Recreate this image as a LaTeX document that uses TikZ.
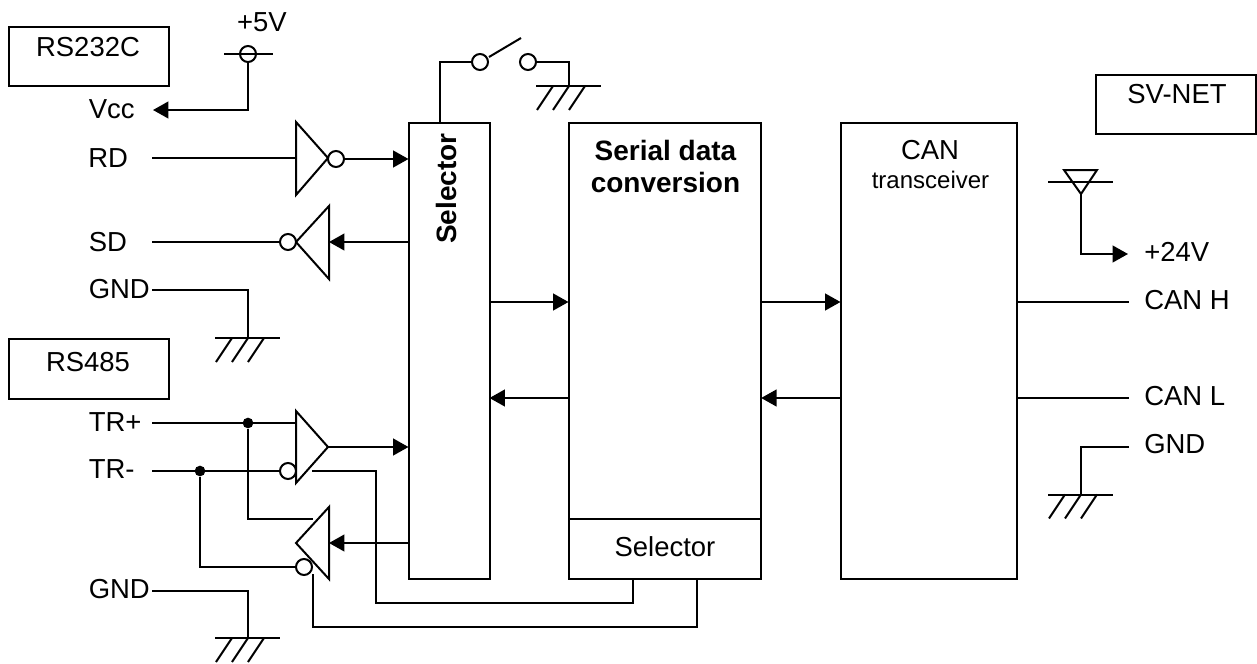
\documentclass[tikz,border=0pt]{standalone}
\usepackage{fontspec}
\setmainfont{Liberation Sans}
\usetikzlibrary{arrows.meta}
\tikzset{
  x=0.75pt,y=-0.75pt,
  wire/.style={line width=1.5pt,line cap=butt,line join=miter},
  sig/.style={wire,-{Triangle[length=11.5pt,width=12.5pt]}},
  box/.style={wire,draw,rectangle,inner sep=0pt,outer sep=0pt,anchor=north west},
  lab/.style={inner sep=0pt,anchor=base west,font=\fontsize{20.6}{20.6}\selectfont},
  clab/.style={lab,anchor=base},
  blab/.style={clab,font=\fontsize{21}{21}\selectfont\bfseries},
  bub/.style={wire,draw,circle,fill=white,minimum size=12pt,inner sep=0pt},
  jn/.style={circle,fill=black,minimum size=8pt,inner sep=0pt},
  gnd/.pic={
    \draw[wire] (-33,0) -- (32,0);
    \draw[wire] (-16,0) -- (-32,24) (0,0) -- (-16,24) (16,0) -- (0,24);
  }
}
\begin{document}
\begin{tikzpicture}
\useasboundingbox (0,0) rectangle (1257,664);
% boxes
\node[box,minimum width=120.5pt,minimum height=44.25pt] (rs232) at (8.5,27) {};
\node[box,minimum width=120.5pt,minimum height=45pt] (rs485) at (8.5,338.5) {};
\node[box,minimum width=120pt,minimum height=44.5pt] (svnet) at (1096,75) {};
\node[box,minimum width=60.75pt,minimum height=342pt] (sel) at (408.5,122.5) {};
\node[box,minimum width=144.5pt,minimum height=342pt] (ser) at (568.5,122.5) {};
\node[box,minimum width=132.5pt,minimum height=342pt] (can) at (840.5,122.5) {};
\node[box,minimum width=144.5pt,minimum height=44.625pt] (sersel) at (568.5,519) {};
% box texts
\node[clab] (t1) at (88,56) {RS232C};
\node[clab] (t2) at (88,371) {RS485};
\node[clab] (t3) at (1177,103) {SV-NET};
\node[clab] (t4) at (262,31) {+5V};
\node[blab,rotate=90,anchor=base] (t5) at (456,188.5) {Selector};
\node[blab] (t6) at (665.5,160) {Serial data};
\node[blab] (t7) at (665.5,192.5) {conversion};
\node[clab] (t8) at (665,556) {Selector};
\node[clab] (t9) at (930,159) {CAN};
\node[clab,font=\fontsize{18}{18}\selectfont] (t10) at (930.5,188) {transceiver};
% left and right labels
\node[lab] (vcc) at (88.5,118) {Vcc};
\node[lab] (rd) at (88,167) {RD};
\node[lab] (sd) at (88.5,251) {SD};
\node[lab] (gnda) at (88.5,298) {GND};
\node[lab] (trp) at (88.5,431) {TR+};
\node[lab] (trm) at (88.5,478) {TR-};
\node[lab] (gndb) at (88.5,598) {GND};
\node[lab] (v24) at (1144,261) {+24V};
\node[lab] (canh) at (1144,309) {CAN H};
\node[lab] (canl) at (1144,405) {CAN L};
\node[lab] (gndc) at (1144,453) {GND};
% free ends
\coordinate (vccE) at (153,110);
\coordinate (rdE) at (152,158);
\coordinate (sdE) at (152,242);
\coordinate (gaE) at (152,290);
\coordinate (tpE) at (152,423);
\coordinate (tmE) at (152,471);
\coordinate (gbE) at (152,591);
\coordinate (chE) at (1129,302);
\coordinate (clE) at (1129,398);
\coordinate (gcE) at (1129,446.5);
\coordinate (v24E) at (1128,254);
% gates
\draw[wire] (296,122) -- (296,195) -- (328,158) -- cycle;
\draw[wire] (329,206) -- (329,279) -- (296,242) -- cycle;
\draw[wire] (296,411) -- (296,483) -- (328,447) -- cycle;
\draw[wire] (329,507) -- (329,579) -- (296,543) -- cycle;
\node[bub] (b1) at (336,159) {};
\node[bub] (b2) at (288,242) {};
\node[bub] (b3) at (288,471) {};
\node[bub] (b4) at (304,567) {};
% supply symbols
\draw[wire] (224,54) -- (273,54);
\node[bub,fill=none] (v5) at (248,54) {};
\draw[wire] (1048,182) -- (1113,182);
\draw[wire] (1064,170) -- (1097,170) -- (1081,194) -- cycle;
\coordinate (v24top) at (1081,194);
% switch
\node[bub] (s1) at (480,62) {};
\node[bub] (s2) at (528,62) {};
\draw[wire] (s1) ++(9,-5) -- (521,38);
% grounds
\pic at (569,86) {gnd};
\pic at (248,338) {gnd};
\pic at (248,638) {gnd};
\pic at (1081,494.5) {gnd};
% wires upper left
\draw[sig] (v5.south) |- (vccE);
\draw[wire] (rdE) -- (296,158);
\draw[sig] (b1.east) -- (sel.west |- b1.east);
\draw[sig] (sel.west |- sdE) -- (329,242);
\draw[wire] (sdE) -- (b2.west);
\draw[wire] (gaE) -| (248,338);
% switch wires
\draw[wire] (440,122) |- (s1.west);
\draw[wire] (s2.east) -| (569,86);
% RS485 section
\draw[wire] (tpE) -- (296,423);
\draw[wire] (tmE) -- (b3.west);
\node[jn] (j1) at (248,423) {};
\node[jn] (j2) at (200,471) {};
\draw[wire] (j1) |- (313,519);
\draw[wire] (j2) |- (b4.west);
\draw[sig] (328,447) -- (sel.west |- 0,447);
\draw[sig] (sel.west |- 0,543) -- (329,543);
\draw[wire] (312,471) -| (376,603) -| (633,578);
\draw[wire] (697,578) |- (313,627) -- (313,574);
\draw[wire] (gbE) -| (248,638);
% centre arrows
\draw[sig] (sel.east |- 0,302) -- (ser.west |- 0,302);
\draw[sig] (ser.west |- 0,398) -- (sel.east |- 0,398);
\draw[sig] (ser.east |- 0,302) -- (can.west |- 0,302);
\draw[sig] (can.west |- 0,398) -- (ser.east |- 0,398);
% right side
\draw[sig] (v24top) |- (v24E);
\draw[wire] (can.east |- chE) -- (chE);
\draw[wire] (can.east |- clE) -- (clE);
\draw[wire] (gcE) -| (1081,494.5);
\end{tikzpicture}
\end{document}
